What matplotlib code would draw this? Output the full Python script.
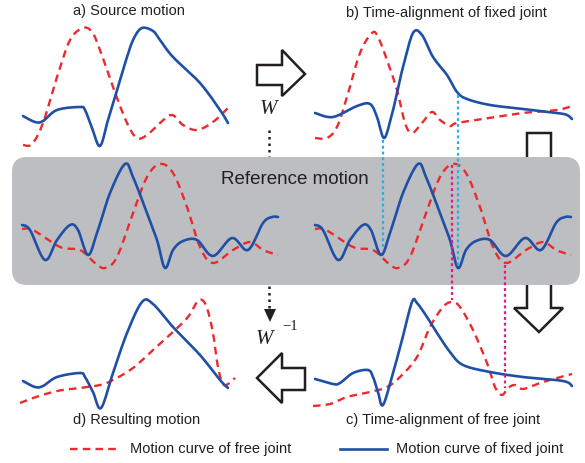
import numpy as np
import matplotlib
matplotlib.use("Agg")
import matplotlib.pyplot as plt
from matplotlib.patches import FancyBboxPatch, Polygon

# ---------------- data (curve samples, in diagram pixel units) ----------------
# a) Source motion
a_fixed_x = [23, 35, 43, 57, 80, 85, 92, 100, 108, 115, 127, 134, 142, 153, 160, 173, 200, 220, 228]
a_fixed_y = [116, 122, 121, 110, 107, 110, 128, 146, 120, 97, 57, 38, 28, 31, 40, 57, 83, 110, 123]
a_free_x = [23, 32, 43, 57, 70, 83, 92, 100, 113, 127, 137, 147, 160, 172, 183, 197, 213, 228]
a_free_y = [145, 144, 123, 77, 40, 28, 32, 50, 87, 123, 138, 135, 123, 115, 125, 130, 122, 108]

# b) Time-alignment of fixed joint
b_fixed_x = [315, 333, 357, 370, 377, 384, 391, 397, 403, 413, 422, 433, 447, 457, 467, 490, 523, 557, 567, 572]
b_fixed_y = [113, 117, 106, 104, 117, 138, 118, 93, 67, 33, 35, 57, 75, 92, 99, 105, 109, 113, 115, 119]
b_free_x = [315, 327, 337, 347, 360, 372, 378, 387, 397, 405, 412, 422, 432, 440, 450, 457, 490, 523, 557, 572]
b_free_y = [138, 138, 127, 97, 53, 33, 37, 60, 90, 123, 133, 123, 112, 120, 126, 123, 118, 113, 110, 106]

# Reference motion (same curve drawn twice)
ref_fixed_x = [22, 30, 45, 57, 70, 78, 88, 97, 110, 125, 133, 147, 157, 165, 173, 183, 197, 213, 232, 248, 263, 272, 278]
ref_fixed_y = [225, 230, 260, 240, 225, 230, 255, 233, 193, 164, 177, 213, 240, 268, 250, 241, 240, 256, 238, 250, 223, 217, 217]
ref_free_x = [22, 33, 60, 80, 95, 105, 117, 133, 147, 160, 173, 187, 200, 213, 233, 250, 263, 278]
ref_free_y = [229, 230, 247, 250, 263, 268, 257, 213, 177, 164, 173, 207, 247, 263, 250, 242, 250, 255]
ref_shift = [0, 293]

# d) Resulting motion
d_fixed_x = [23, 35, 43, 57, 80, 85, 93, 101, 113, 127, 142, 153, 173, 200, 220, 228]
d_fixed_y = [381, 387, 386, 377, 373, 377, 392, 408, 373, 333, 302, 304, 327, 355, 380, 388]
d_free_x = [20, 33, 57, 80, 100, 113, 133, 153, 173, 188, 197, 202, 207, 213, 218, 224, 235]
d_free_y = [403, 398, 391, 388, 385, 380, 368, 350, 332, 317, 302, 300, 308, 333, 367, 385, 378]

# c) Time-alignment of free joint
c_fixed_x = [315, 333, 340, 353, 368, 373, 378, 383, 393, 402, 412, 417, 427, 437, 450, 463, 490, 523, 563, 572]
c_fixed_y = [379, 384, 383, 373, 370, 377, 392, 405, 373, 340, 302, 303, 317, 333, 352, 365, 372, 377, 381, 386]
c_free_x = [313, 330, 347, 370, 387, 400, 417, 430, 443, 452, 460, 473, 487, 495, 502, 508, 515, 523, 540, 557, 572]
c_free_y = [406, 404, 397, 392, 387, 377, 357, 327, 307, 302, 307, 330, 363, 387, 395, 388, 385, 389, 383, 378, 374]

# correspondence lines (x, y_top, y_bottom)
cyan_lines = [(383, 140, 250), (458, 95, 266)]
magenta_lines = [(452, 165, 300), (505, 265, 388)]

panel_labels = ["a) Source motion", "b) Time-alignment of fixed joint",
                "d) Resulting motion", "c) Time-alignment of free joint"]
legend_labels = ["Motion curve of free joint", "Motion curve of fixed joint"]

BLUE = "#1f50a6"
RED = "#ec2a2e"
CYAN = "#2aaee6"
MAGENTA = "#e5178a"
GREY = "#bdbec1"


def smooth(xs, ys, n=12):
    """Catmull-Rom rendering of a sampled curve."""
    p = np.column_stack([xs, ys]).astype(float)
    p = np.vstack([p[0], p, p[-1]])
    out = []
    for i in range(1, len(p) - 2):
        p0, p1, p2, p3 = p[i - 1], p[i], p[i + 1], p[i + 2]
        for t in np.linspace(0, 1, n, endpoint=False):
            t2, t3 = t * t, t * t * t
            out.append(0.5 * ((2 * p1) + (-p0 + p2) * t + (2 * p0 - 5 * p1 + 4 * p2 - p3) * t2
                              + (-p0 + 3 * p1 - 3 * p2 + p3) * t3))
    out.append(p[-2])
    out = np.array(out)
    return out[:, 0], out[:, 1]


fig = plt.figure(figsize=(5.85, 4.63), dpi=100)
ax = fig.add_axes([0, 0, 1, 1])
ax.set_xlim(0, 585)
ax.set_ylim(463, 0)
ax.axis("off")

SANS = "Liberation Sans"


def draw_fixed(xs, ys, z=5):
    sx, sy = smooth(xs, ys)
    ax.plot(sx, sy, color=BLUE, lw=1.9, solid_capstyle="round", zorder=z)


def draw_free(xs, ys, z=4):
    sx, sy = smooth(xs, ys)
    ax.plot(sx, sy, color=RED, lw=1.7, linestyle=(0, (3.2, 2.2)), zorder=z)


# down arrow on right (behind grey box)
ax.add_patch(Polygon([(527, 133), (551, 133), (551, 308), (563, 308), (539, 332),
                      (514, 308), (527, 308)], closed=True, fc="white", ec="#231f20", lw=1.8, zorder=1))
# dotted vertical W arrow (behind grey box)
ax.plot([269, 269], [130, 309], color="#231f20", lw=1.8, linestyle=(0, (1.0, 1.6)), zorder=1)
ax.add_patch(Polygon([(264, 309), (276, 309), (270, 322)], closed=True, fc="#231f20", ec="none", zorder=1))

# grey reference box
ax.add_patch(FancyBboxPatch((27, 157), 538, 128, boxstyle="round,pad=0,rounding_size=15",
                            fc=GREY, ec="none", zorder=2))
ax.add_patch(FancyBboxPatch((12, 157), 568, 128, boxstyle="round,pad=0,rounding_size=15",
                            fc=GREY, ec="none", zorder=2))
ax.text(295, 180, "Reference motion", fontsize=13.5, family=SANS, color="#231f20",
        ha="center", va="center", zorder=3)

# right arrow (top)
ax.add_patch(Polygon([(257, 65), (282, 65), (282, 50), (305, 74), (282, 96), (282, 85), (257, 85)],
                     closed=True, fc="white", ec="#231f20", lw=1.8, zorder=3))
# left arrow (bottom)
ax.add_patch(Polygon([(305, 368), (282, 368), (282, 353), (257, 378), (282, 403), (282, 390), (305, 390)],
                     closed=True, fc="white", ec="#231f20", lw=1.8, zorder=3))

ax.text(268, 110, "W", fontsize=15, family="Liberation Serif", style="italic",
        ha="center", va="center", color="#231f20")
ax.text(264, 339, "W", fontsize=15, family="Liberation Serif", style="italic",
        ha="center", va="center", color="#231f20")
ax.text(290, 327, "\u22121", fontsize=10.5, family="Liberation Serif",
        ha="center", va="center", color="#231f20")

# curves
draw_free(a_free_x, a_free_y)
draw_fixed(a_fixed_x, a_fixed_y)
draw_free(b_free_x, b_free_y)
draw_fixed(b_fixed_x, b_fixed_y)
for s in ref_shift:
    draw_free(np.array(ref_free_x) + s, ref_free_y)
    draw_fixed(np.array(ref_fixed_x) + s, ref_fixed_y)
draw_free(d_free_x, d_free_y)
draw_fixed(d_fixed_x, d_fixed_y)
draw_free(c_free_x, c_free_y)
draw_fixed(c_fixed_x, c_fixed_y)

for x, y0, y1 in cyan_lines:
    ax.plot([x, x], [y0, y1], color=CYAN, lw=1.6, linestyle=(0, (1.3, 1.3)), zorder=6)
for x, y0, y1 in magenta_lines:
    ax.plot([x, x], [y0, y1], color=MAGENTA, lw=1.6, linestyle=(0, (1.3, 1.3)), zorder=6)

# panel labels
label_pos = [(129, 11), (446, 13), (137, 420), (443, 420)]
for (x, y), t in zip(label_pos, panel_labels):
    ax.text(x, y, t, fontsize=10.5, family=SANS, color="#231f20", ha="center", va="center")

# legend
ax.plot([70, 117], [449, 449], color=RED, lw=1.7, linestyle=(0, (3.2, 2.2)))
ax.text(130, 449, legend_labels[0], fontsize=10.5, family=SANS, color="#231f20", ha="left", va="center")
ax.plot([340, 387], [449, 449], color=BLUE, lw=1.9)
ax.text(396, 449, legend_labels[1], fontsize=10.5, family=SANS, color="#231f20", ha="left", va="center")

fig.savefig("out.png", dpi=100)
